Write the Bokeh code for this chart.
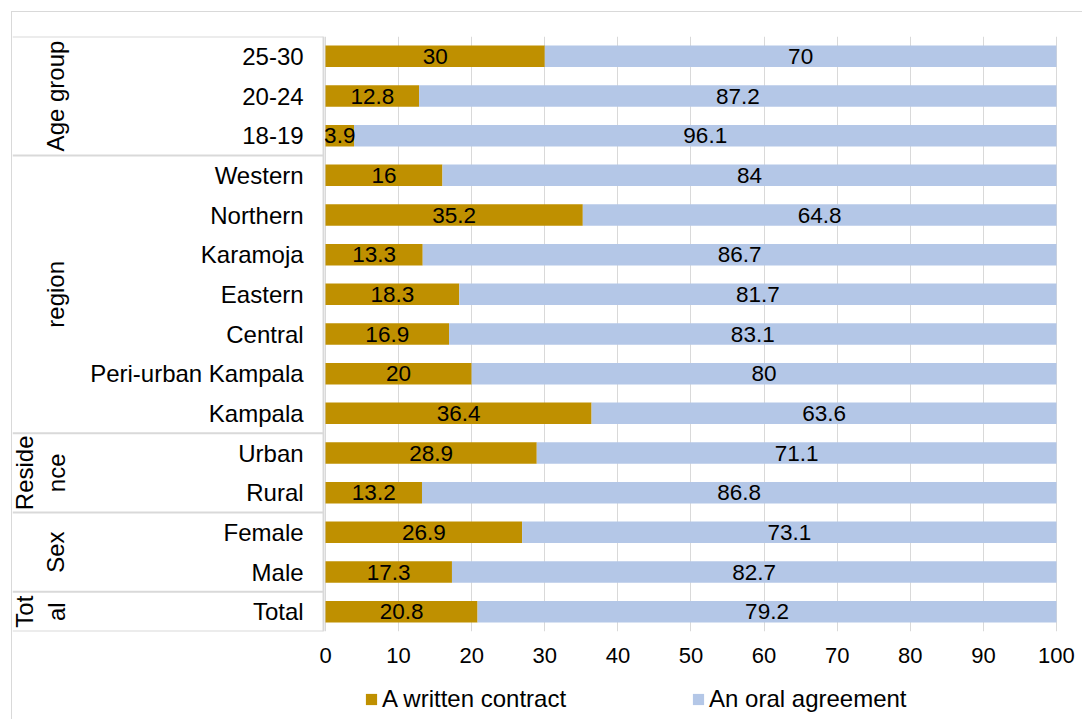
import numpy as np
from bokeh.plotting import figure
from bokeh.layouts import column
from bokeh.models import ColumnDataSource, Range1d, FixedTicker, Legend, LegendItem
from bokeh.core.properties import value
from bokeh.embed import file_html
from bokeh.resources import INLINE

# ---- data ----
categories = ["25-30", "20-24", "18-19", "Western", "Northern", "Karamoja", "Eastern",
              "Central", "Peri-urban Kampala", "Kampala", "Urban", "Rural", "Female",
              "Male", "Total"]
written = [30, 12.8, 3.9, 16, 35.2, 13.3, 18.3, 16.9, 20, 36.4, 28.9, 13.2, 26.9, 17.3, 20.8]
oral = [70, 87.2, 96.1, 84, 64.8, 86.7, 81.7, 83.1, 80, 63.6, 71.1, 86.8, 73.1, 82.7, 79.2]
groups = ["Age group", "region", "Reside\nnce", "Sex", "Tot\nal"]
group_sizes = [3, 7, 2, 2, 1]
series = ["A written contract", "An oral agreement"]
colors = ["#bf9000", "#b4c7e7"]
x_ticks = [0, 10, 20, 30, 40, 50, 60, 70, 80, 90, 100]

FONT = "Liberation Sans"
GRID = "#d9d9d9"

n = len(categories)
ys = [-i for i in range(n)]
w = np.array(written, dtype=float)
o = np.array(oral, dtype=float)

src = ColumnDataSource(dict(
    y=ys, cat=categories, w=w, tot=w + o,
    wmid=w / 2, omid=w + o / 2,
    wlab=[f"{v:g}" for v in written], olab=[f"{v:g}" for v in oral],
))

W = 1070
XMIN, XMAX = -42.82, 103.56
p = figure(width=W, height=660, output_backend="svg", toolbar_location=None,
           x_range=Range1d(XMIN, XMAX), y_range=Range1d(-n + 0.5, 0.5),
           y_axis_location=None, min_border_top=24, min_border_bottom=41,
           min_border_left=0, min_border_right=0)
p.outline_line_color = None
p.background_fill_color = "white"
p.border_fill_color = "white"

# axis / grid
p.xaxis.ticker = FixedTicker(ticks=x_ticks)
p.xaxis.axis_line_color = None
p.xaxis.major_tick_line_color = None
p.xaxis.minor_tick_line_color = None
p.xaxis.major_label_text_font = FONT
p.xaxis.major_label_text_font_size = "22px"
p.xaxis.major_label_text_color = "black"
p.xaxis.major_label_standoff = 10
p.xgrid.ticker = FixedTicker(ticks=x_ticks)
p.xgrid.grid_line_color = GRID
p.xgrid.grid_line_width = 1
p.ygrid.grid_line_color = None

# bars
BH = 0.54
bar_kw = dict(height=BH, source=src, line_color=None)
r1 = p.hbar(y="y", left=0, right="w", color=colors[0], **bar_kw)
r2 = p.hbar(y="y", left="w", right="tot", color=colors[1], **bar_kw)

# bar labels
for xcol, tcol in (("wmid", "wlab"), ("omid", "olab")):
    p.text(x=xcol, y="y", text=tcol, source=src, text_align="center", text_baseline="middle",
           text_font=value(FONT), text_font_size="22.5px", text_color="black")

# category labels (table)
p.text(x=-3.0, y="y", text="cat", source=src, text_align="right", text_baseline="middle",
       text_font=value(FONT), text_font_size="24px", text_color="black")

# group table
starts = np.concatenate([[0], np.cumsum(group_sizes)])
bounds = [0.5 - k for k in starts]
TX = -0.27
p.segment(x0=[XMIN] * len(bounds), x1=[TX] * len(bounds), y0=bounds, y1=bounds,
          line_color=GRID, line_width=2)
p.segment(x0=[TX], x1=[TX], y0=[bounds[0]], y1=[bounds[-1]], line_color=GRID, line_width=2)

gy = [-(s + (sz - 1) / 2) for s, sz in zip(starts[:-1], group_sizes)]
gx = [(-39.0 if "\n" in g else -37.0) for g in groups]
p.text(x=gx, y=gy, text=groups, angle=np.pi / 2, text_align="center", text_baseline="middle",
       text_font=value(FONT), text_font_size="24px", text_color="black")

# legend strip (a second figure under the chart; its ranges keep the bars out of view)
pl = figure(width=W, height=47, output_backend="svg", toolbar_location=None,
            x_range=Range1d(1000, 1001), y_range=Range1d(1000, 1001),
            x_axis_location=None, y_axis_location=None,
            min_border=0, min_border_left=0, min_border_right=0,
            min_border_top=0, min_border_bottom=0)
pl.outline_line_color = None
pl.xgrid.grid_line_color = None
pl.ygrid.grid_line_color = None
l1 = pl.hbar(y="y", left=0, right="w", color=colors[0], **bar_kw)
l2 = pl.hbar(y="y", left="w", right="tot", color=colors[1], **bar_kw)
legend = Legend(items=[LegendItem(label=series[0], renderers=[l1]),
                       LegendItem(label=series[1], renderers=[l2])],
                orientation="horizontal", location=(352, 6),
                glyph_width=14, glyph_height=14, label_standoff=4, spacing=125,
                padding=0, margin=0, border_line_color=None, background_fill_alpha=0,
                label_text_font=FONT, label_text_font_size="24px", label_text_color="black")
pl.add_layout(legend)

layout = column(p, pl, spacing=0)
layout.margin = (11, 0, 0, 11)
layout.styles = {"border-top": "1px solid #d9d9d9", "border-left": "1px solid #d9d9d9"}

open("out.html", "w").write(file_html(layout, INLINE))
